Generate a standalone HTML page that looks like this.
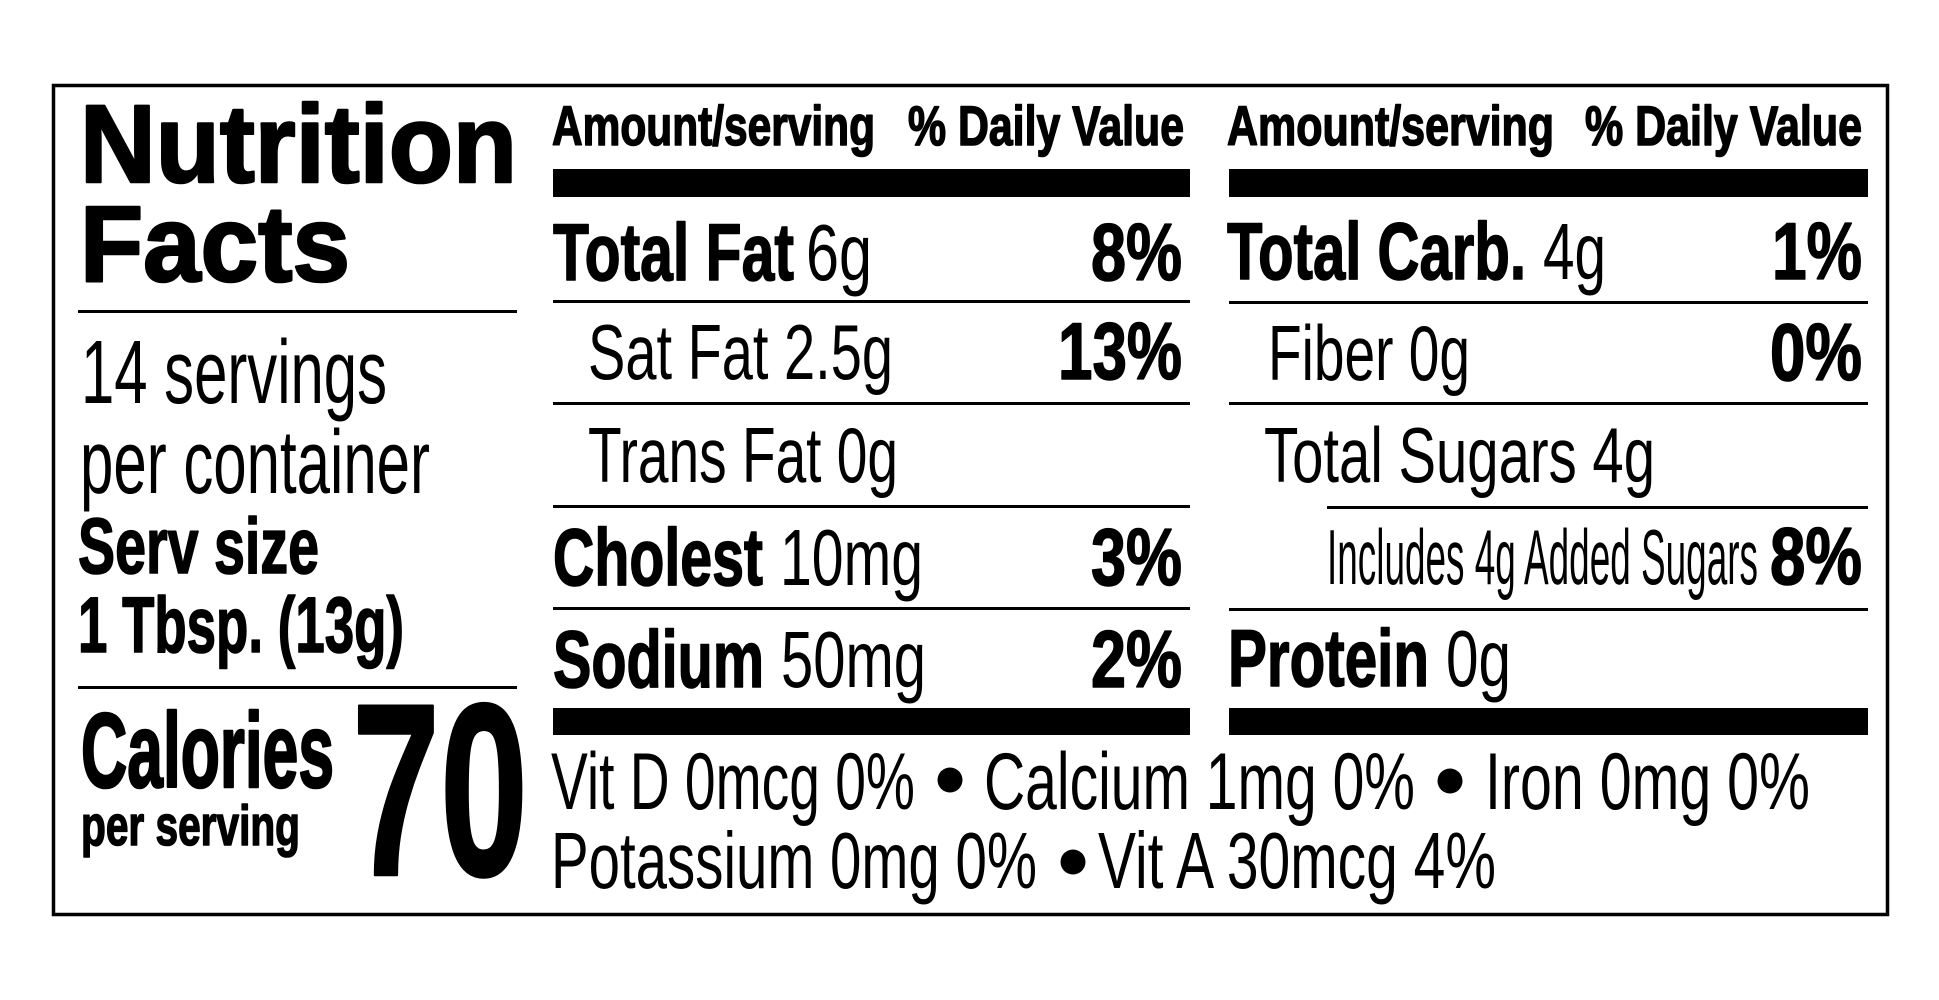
<!DOCTYPE html>
<html>
<head>
<meta charset="utf-8">
<style>
html,body{margin:0;padding:0;background:#fff;}
svg{display:block;}
text{font-family:"Liberation Sans",Arial,sans-serif;fill:#000;}
.b{font-weight:bold;stroke:#000;stroke-width:1.6px;stroke-linejoin:round;}
.bb{font-weight:bold;stroke:#000;stroke-width:2.6px;stroke-linejoin:round;}
.r{font-weight:normal;}
</style>
</head>
<body>
<svg width="1939" height="1000" viewBox="0 0 1939 1000" xmlns="http://www.w3.org/2000/svg">
<rect x="0" y="0" width="1939" height="1000" fill="#fff"/>
<!-- outer border -->
<rect x="53.5" y="85.5" width="1834" height="829" fill="none" stroke="#000" stroke-width="3.5"/>

<!-- LEFT COLUMN -->
<text class="bb" x="80" y="182" font-size="110" textLength="437" lengthAdjust="spacingAndGlyphs">Nutrition</text>
<text class="bb" x="80" y="281" font-size="108" textLength="270" lengthAdjust="spacingAndGlyphs">Facts</text>
<rect x="78" y="310" width="439" height="3" fill="#000"/>
<text class="r" x="81" y="403" font-size="90" textLength="306" lengthAdjust="spacingAndGlyphs">14 servings</text>
<text class="r" x="80" y="493" font-size="90" textLength="350" lengthAdjust="spacingAndGlyphs">per container</text>
<text class="b" x="78" y="573" font-size="79" textLength="241" lengthAdjust="spacingAndGlyphs">Serv size</text>
<text class="b" x="78" y="652" font-size="79" textLength="326" lengthAdjust="spacingAndGlyphs">1 Tbsp. (13g)</text>
<rect x="78" y="686" width="439" height="3" fill="#000"/>
<text class="bb" x="81" y="787" font-size="106" textLength="253" lengthAdjust="spacingAndGlyphs">Calories</text>
<text class="b" x="81" y="845" font-size="57" textLength="219" lengthAdjust="spacingAndGlyphs">per serving</text>
<text class="bb" x="352" y="875" font-size="246" textLength="176" lengthAdjust="spacingAndGlyphs">70</text>

<!-- MIDDLE COLUMN -->
<text class="b" x="552" y="145" font-size="56" textLength="323" lengthAdjust="spacingAndGlyphs">Amount/serving</text>
<text class="b" x="908" y="145" font-size="56" textLength="276" lengthAdjust="spacingAndGlyphs">% Daily Value</text>
<rect x="553" y="169" width="637" height="28" fill="#000"/>

<text class="b" x="553" y="280" font-size="81" textLength="241" lengthAdjust="spacingAndGlyphs">Total Fat</text>
<text class="r" x="806" y="280" font-size="80" textLength="66" lengthAdjust="spacingAndGlyphs">6g</text>
<text class="b" x="1091" y="280" font-size="81" textLength="91" lengthAdjust="spacingAndGlyphs">8%</text>
<rect x="553" y="300" width="637" height="3" fill="#000"/>

<text class="r" x="588" y="379" font-size="78" textLength="305" lengthAdjust="spacingAndGlyphs">Sat Fat 2.5g</text>
<text class="b" x="1058" y="379" font-size="81" textLength="124" lengthAdjust="spacingAndGlyphs">13%</text>
<rect x="553" y="402" width="637" height="3" fill="#000"/>

<text class="r" x="588" y="482" font-size="78" textLength="310" lengthAdjust="spacingAndGlyphs">Trans Fat 0g</text>
<rect x="553" y="505" width="637" height="3" fill="#000"/>

<text class="b" x="553" y="585" font-size="81" textLength="210" lengthAdjust="spacingAndGlyphs">Cholest</text>
<text class="r" x="780" y="585" font-size="80" textLength="143" lengthAdjust="spacingAndGlyphs">10mg</text>
<text class="b" x="1091" y="585" font-size="81" textLength="91" lengthAdjust="spacingAndGlyphs">3%</text>
<rect x="553" y="607" width="637" height="3" fill="#000"/>

<text class="b" x="553" y="687" font-size="81" textLength="211" lengthAdjust="spacingAndGlyphs">Sodium</text>
<text class="r" x="781" y="687" font-size="80" textLength="145" lengthAdjust="spacingAndGlyphs">50mg</text>
<text class="b" x="1091" y="687" font-size="81" textLength="91" lengthAdjust="spacingAndGlyphs">2%</text>
<rect x="553" y="708" width="637" height="27" fill="#000"/>

<!-- RIGHT COLUMN -->
<text class="b" x="1227" y="145" font-size="56" textLength="327" lengthAdjust="spacingAndGlyphs">Amount/serving</text>
<text class="b" x="1585" y="145" font-size="56" textLength="277" lengthAdjust="spacingAndGlyphs">% Daily Value</text>
<rect x="1229" y="169" width="639" height="28" fill="#000"/>

<text class="b" x="1227" y="279" font-size="81" textLength="299" lengthAdjust="spacingAndGlyphs">Total Carb.</text>
<text class="r" x="1543" y="279" font-size="80" textLength="63" lengthAdjust="spacingAndGlyphs">4g</text>
<text class="b" x="1772" y="279" font-size="81" textLength="90" lengthAdjust="spacingAndGlyphs">1%</text>
<rect x="1229" y="301" width="639" height="3" fill="#000"/>

<text class="r" x="1268" y="380" font-size="78" textLength="202" lengthAdjust="spacingAndGlyphs">Fiber 0g</text>
<text class="b" x="1770" y="380" font-size="81" textLength="92" lengthAdjust="spacingAndGlyphs">0%</text>
<rect x="1229" y="402" width="639" height="3" fill="#000"/>

<text class="r" x="1264" y="482" font-size="78" textLength="391" lengthAdjust="spacingAndGlyphs">Total Sugars 4g</text>
<rect x="1327" y="506" width="541" height="3" fill="#000"/>

<text class="r" x="1327" y="584" font-size="78" textLength="431" lengthAdjust="spacingAndGlyphs">Includes 4g Added Sugars</text>
<text class="b" x="1770" y="584" font-size="81" textLength="92" lengthAdjust="spacingAndGlyphs">8%</text>
<rect x="1229" y="608" width="639" height="3" fill="#000"/>

<text class="b" x="1228" y="686" font-size="81" textLength="201" lengthAdjust="spacingAndGlyphs">Protein</text>
<text class="r" x="1446" y="686" font-size="80" textLength="65" lengthAdjust="spacingAndGlyphs">0g</text>
<rect x="1229" y="708" width="639" height="27" fill="#000"/>

<!-- BOTTOM VITAMINS -->
<text class="r" x="551" y="809" font-size="81" textLength="364" lengthAdjust="spacingAndGlyphs">Vit D 0mcg 0%</text>
<circle cx="950" cy="780" r="12.5" fill="#000"/>
<text class="r" x="984" y="809" font-size="81" textLength="431" lengthAdjust="spacingAndGlyphs">Calcium 1mg 0%</text>
<circle cx="1450" cy="781" r="12.5" fill="#000"/>
<text class="r" x="1485" y="809" font-size="81" textLength="325" lengthAdjust="spacingAndGlyphs">Iron 0mg 0%</text>

<text class="r" x="551" y="888" font-size="80" textLength="486" lengthAdjust="spacingAndGlyphs">Potassium 0mg 0%</text>
<circle cx="1073" cy="862" r="12.5" fill="#000"/>
<text class="r" x="1098" y="888" font-size="80" textLength="398" lengthAdjust="spacingAndGlyphs">Vit A 30mcg 4%</text>
</svg>
</body>
</html>
